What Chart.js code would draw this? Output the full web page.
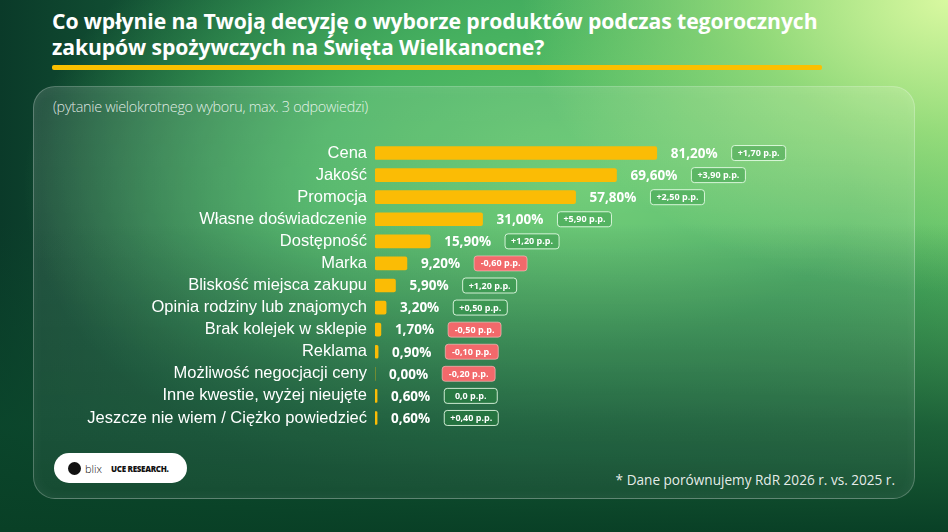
<!DOCTYPE html>
<html>
<head>
<meta charset="utf-8">
<script src="https://cdn.jsdelivr.net/npm/chart.js@4.4.1/dist/chart.umd.min.js"></script>
<style>
  html, body { margin: 0; padding: 0; }
  body {
    width: 948px; height: 532px; position: relative; overflow: hidden;
    font-family: "Open Sans", sans-serif;
    background:
      linear-gradient(180deg, rgba(9,62,38,0) 0%, rgba(9,62,38,0) 42%, rgba(11,72,44,0.8) 80%, rgba(9,64,38,1) 100%),
      radial-gradient(ellipse 45% 55% at 100% 0%, #d8f8a0 0%, rgba(185,238,135,0.65) 45%, rgba(140,220,110,0) 100%),
      radial-gradient(ellipse 70% 75% at 62% 35%, #62c86a 0%, #47b260 40%, rgba(40,140,70,0) 85%),
      linear-gradient(90deg, #0a3a29 0%, #1a663e 28%, #35985a 55%, #66c86a 100%);
  }
  .title {
    position: absolute; left: 52px; top: 8px; width: 880px;
    color: #fff; font-weight: 700; font-size: 21.2px; line-height: 26px;
    letter-spacing: -0.1px;
  }
  .underline {
    position: absolute; left: 52px; top: 65px; width: 770px; height: 5px;
    background: #fbc000; border-radius: 2px;
  }
  .panel {
    position: absolute; left: 33px; top: 86px; width: 882px; height: 413px;
    border-radius: 22px;
    background: linear-gradient(180deg, rgba(255,255,255,0.12), rgba(255,255,255,0.05));
    border: 1.5px solid rgba(255,255,255,0.25);
    box-shadow: inset 0 0 14px rgba(255,255,255,0.06);
    box-sizing: border-box;
  }
  .subtitle {
    position: absolute; left: 53px; top: 97px;
    color: rgba(255,255,255,0.85); font-size: 14.4px; font-weight: 300;
    letter-spacing: -0.3px;
  }
  .logo {
    position: absolute; left: 54px; top: 453px; width: 133px; height: 30px;
    background: #fff; border-radius: 15px;
    display: flex; align-items: center; padding-left: 14px; box-sizing: border-box;
    font-size: 9px; color: #111;
  }
  .logo .dot { width: 13px; height: 13px; border-radius: 50%; background: #111; margin-right: 4px; }
  .logo .blix { font-size: 11px; margin-right: 9px; font-weight: 300; }
  .logo .uce { font-weight: 800; font-size: 8px; letter-spacing: -0.3px; }
  .note {
    position: absolute; right: 53px; top: 470px;
    color: rgba(255,255,255,0.9); font-size: 13.6px;
  }
  #chartBox { position: absolute; left: 0; top: 142px; width: 948px; height: 287px; }
</style>
</head>
<body>
<div class="title">Co wpłynie na Twoją decyzję o wyborze produktów podczas tegorocznych<br>zakupów spożywczych na Święta Wielkanocne?</div>
<div class="underline"></div>
<div class="panel"></div>
<div class="subtitle">(pytanie wielokrotnego wyboru, max. 3 odpowiedzi)</div>
<div id="chartBox"><canvas id="chart"></canvas></div>
<div class="logo"><span class="dot"></span><span class="blix">blix</span><span class="uce">UCE RESEARCH.</span></div>
<div class="note">* Dane porównujemy RdR 2026 r. vs. 2025 r.</div>

<script>
const categories = [
  "Cena", "Jakość", "Promocja", "Własne doświadczenie", "Dostępność", "Marka",
  "Bliskość miejsca zakupu", "Opinia rodziny lub znajomych", "Brak kolejek w sklepie",
  "Reklama", "Możliwość negocjacji ceny", "Inne kwestie, wyżej nieujęte",
  "Jeszcze nie wiem / Ciężko powiedzieć"
];
const shares = [81.2, 69.6, 57.8, 31.0, 15.9, 9.2, 5.9, 3.2, 1.7, 0.9, 0.0, 0.6, 0.6];
const changes = [1.7, 3.9, 2.5, 5.9, 1.2, -0.6, 1.2, 0.5, -0.5, -0.1, -0.2, 0.0, 0.4];

const fmtPct = v => v.toFixed(2).replace(".", ",") + "%";
const fmtChange = v => {
  if (v === 0) return "0,0 p.p.";
  return (v > 0 ? "+" : "") + v.toFixed(2).replace(".", ",") + " p.p.";
};

function roundRect(ctx, x, y, w, h, r) {
  ctx.beginPath();
  ctx.moveTo(x + r, y);
  ctx.arcTo(x + w, y, x + w, y + h, r);
  ctx.arcTo(x + w, y + h, x, y + h, r);
  ctx.arcTo(x, y + h, x, y, r);
  ctx.arcTo(x, y, x + w, y, r);
  ctx.closePath();
}

// value labels + change badges next to each bar
const labelsPlugin = {
  id: "barLabels",
  afterDatasetsDraw(chart) {
    const ctx = chart.ctx;
    const meta = chart.getDatasetMeta(0);
    const xScale = chart.scales.x;
    ctx.save();
    meta.data.forEach((bar, i) => {
      const end = xScale.getPixelForValue(shares[i]);
      const y = bar.y;
      ctx.font = "700 13.5px 'Open Sans'";
      ctx.fillStyle = "#fff";
      ctx.textAlign = "left";
      ctx.textBaseline = "middle";
      const txt = fmtPct(shares[i]);
      const lx = end + 14;
      ctx.fillText(txt, lx, y + 1);
      const tw = ctx.measureText(txt).width;

      const bx = lx + tw + 14;
      const btxt = fmtChange(changes[i]);
      ctx.font = "700 9px 'Open Sans'";
      const bw = Math.max(ctx.measureText(btxt).width + 12, 53);
      const bh = 15;
      roundRect(ctx, bx, y - bh / 2, bw, bh, 3);
      if (changes[i] < 0) {
        ctx.fillStyle = "#f2696b";
        ctx.fill();
        ctx.strokeStyle = "rgba(255,200,200,0.6)";
      } else {
        ctx.fillStyle = "rgba(40,140,60,0.35)";
        ctx.fill();
        ctx.strokeStyle = "rgba(235,255,235,0.85)";
      }
      ctx.lineWidth = 1;
      ctx.stroke();
      ctx.fillStyle = "#fff";
      ctx.textAlign = "center";
      ctx.fillText(btxt, bx + bw / 2, y + 0.5);
    });
    ctx.restore();
  }
};

new Chart(document.getElementById("chart"), {
  type: "bar",
  data: {
    labels: categories,
    datasets: [{
      data: shares,
      backgroundColor: "#fbbc05",
      borderRadius: 2,
      borderSkipped: false,
      barThickness: 13
    }]
  },
  options: {
    indexAxis: "y",
    responsive: true,
    maintainAspectRatio: false,
    animation: false,
    layout: { padding: { left: 0, right: 226, top: 0, bottom: 0 } },
    plugins: { legend: { display: false }, tooltip: { enabled: false } },
    scales: {
      x: { display: false, min: 0, max: 100 },
      y: {
        afterFit(scale) {
          scale.width = 375;
          scale.paddingTop = 0;
          scale.paddingBottom = 0;
        },
        grid: { display: false, drawTicks: false },
        border: { display: false },
        ticks: {
          color: "#fff",
          padding: 8,
          autoSkip: false,
          font: { family: "'Liberation Sans Narrow', 'Liberation Sans', Arial", size: 16.5 }
        }
      }
    }
  },
  plugins: [labelsPlugin]
});
</script>
</body>
</html>
